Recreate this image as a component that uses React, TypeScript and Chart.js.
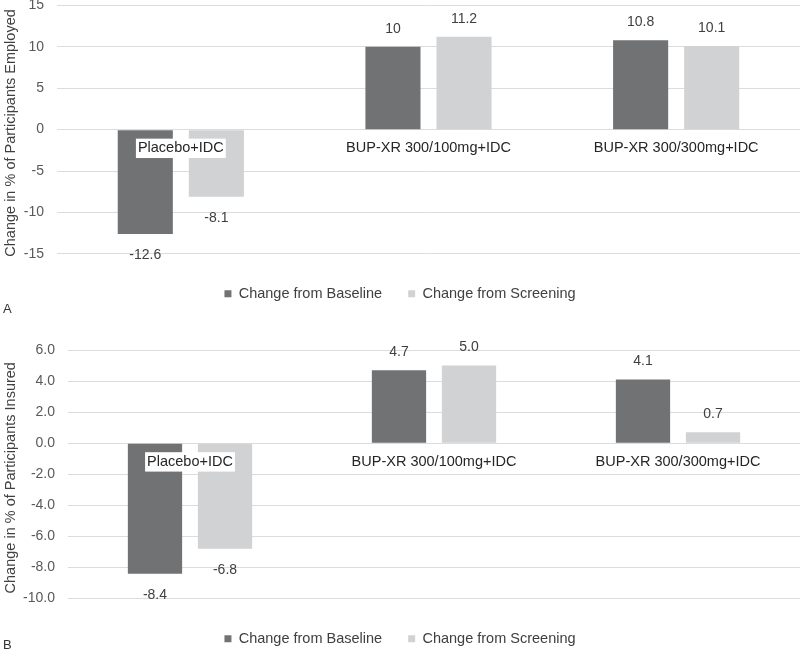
import React, { useEffect, useRef } from "react";
import { Chart, registerables } from "chart.js";

Chart.register(...registerables);

const categories = ["Placebo+IDC", "BUP-XR 300/100mg+IDC", "BUP-XR 300/300mg+IDC"];
const seriesNames = ["Change from Baseline", "Change from Screening"];

const employedBaseline = [-12.6, 10, 10.8];
const employedScreening = [-8.1, 11.2, 10.1];
const employedTicks = [-15, -10, -5, 0, 5, 10, 15];

const insuredBaseline = [-8.4, 4.7, 4.1];
const insuredScreening = [-6.8, 5.0, 0.7];
const insuredTicks = [-10, -8, -6, -4, -2, 0, 2, 4, 6];

const FONT = "'Liberation Sans', Arial, sans-serif";
const DARK = "#717274";
const LIGHT = "#d1d2d4";

type Fmt = (v: number) => string;

function makeValueLabels(fmt: Fmt) {
  return {
    id: "valueLabels",
    afterDatasetsDraw(chart: any) {
      const ctx = chart.ctx;
      ctx.save();
      ctx.font = `14px ${FONT}`;
      ctx.fillStyle = "#404040";
      ctx.textAlign = "center";
      ctx.textBaseline = "middle";
      chart.data.datasets.forEach((ds: any, i: number) => {
        const meta = chart.getDatasetMeta(i);
        meta.data.forEach((el: any, j: number) => {
          const v = ds.data[j] as number;
          const y = v >= 0 ? el.y - 18 : el.y + 21;
          ctx.fillText(fmt(v), el.x, y);
        });
      });
      ctx.restore();
    },
  };
}

interface PanelProps {
  top: number;
  height: number;
  padTop: number;
  baseline: number[];
  screening: number[];
  ticks: number[];
  yMin: number;
  yMax: number;
  yTitle: string;
  axisWidth: number;
  fmt: Fmt;
}

function BarPanel(p: PanelProps) {
  const ref = useRef<HTMLCanvasElement>(null);
  useEffect(() => {
    const chart = new Chart(ref.current as HTMLCanvasElement, {
      type: "bar",
      data: {
        labels: categories,
        datasets: [
          {
            label: seriesNames[0],
            data: p.baseline,
            backgroundColor: DARK,
            categoryPercentage: 0.574,
            barPercentage: 0.775,
          },
          {
            label: seriesNames[1],
            data: p.screening,
            backgroundColor: LIGHT,
            categoryPercentage: 0.574,
            barPercentage: 0.775,
          },
        ],
      },
      options: {
        responsive: false,
        animation: false,
        devicePixelRatio: 1,
        layout: { padding: { top: p.padTop, left: 0, right: 0, bottom: 0 } },
        plugins: {
          legend: {
            position: "bottom",
            labels: {
              boxWidth: 7,
              boxHeight: 7,
              padding: 26,
              color: "#404040",
              font: { family: FONT, size: 14.5 },
            },
          },
          tooltip: { enabled: false },
        },
        scales: {
          x: {
            type: "category",
            position: { y: 0 } as any,
            offset: true,
            grid: { display: false, drawTicks: false },
            border: { display: false },
            ticks: {
              z: 1,
              padding: 10,
              color: "#262626",
              font: { family: FONT, size: 14.5 },
              showLabelBackdrop: true,
              backdropColor: "#ffffff",
              backdropPadding: { x: 2, y: 1 },
              maxRotation: 0,
              autoSkip: false,
            },
          },
          y: {
            min: p.yMin,
            max: p.yMax,
            border: { display: false },
            grid: { color: "#dcdcdc", lineWidth: 1, drawTicks: false },
            afterBuildTicks: (scale: any) => {
              scale.ticks = p.ticks.map((v) => ({ value: v }));
            },
            afterFit: (scale: any) => {
              scale.width = p.axisWidth;
            },
            ticks: {
              padding: 13,
              color: "#595959",
              font: { family: FONT, size: 14 },
              callback: (v: any) => p.fmt(Number(v)),
            },
            title: {
              display: true,
              text: p.yTitle,
              color: "#404040",
              font: { family: FONT, size: 14.5 },
              padding: { top: 2, bottom: 0 },
            },
          },
        },
      },
      plugins: [makeValueLabels(p.fmt)],
    } as any);
    return () => chart.destroy();
  }, []);
  return (
    <canvas
      ref={ref}
      width={800}
      height={p.height}
      style={{ position: "absolute", left: 0, top: p.top, display: "block" }}
    />
  );
}

const fmtA: Fmt = (v) => String(v);
const fmtB: Fmt = (v) => v.toFixed(1);

export default function App() {
  const letter: React.CSSProperties = {
    position: "absolute",
    left: 3,
    fontFamily: FONT,
    fontSize: 13,
    lineHeight: "14px",
    color: "#333",
  };
  return (
    <div
      style={{
        position: "fixed",
        left: 0,
        top: 0,
        width: 800,
        height: 651,
        overflow: "hidden",
        background: "#fff",
      }}
    >
      <BarPanel
        top={-16}
        height={327}
        padTop={0}
        baseline={employedBaseline}
        screening={employedScreening}
        ticks={employedTicks}
        yMin={-15.8}
        yMax={15}
        yTitle="Change in % of Participants Employed"
        axisWidth={57}
        fmt={fmtA}
      />
      <BarPanel
        top={320}
        height={336}
        padTop={30}
        baseline={insuredBaseline}
        screening={insuredScreening}
        ticks={insuredTicks}
        yMin={-10.45}
        yMax={6}
        yTitle="Change in % of Participants Insured"
        axisWidth={68}
        fmt={fmtB}
      />
      <div style={{ ...letter, top: 302 }}>A</div>
      <div style={{ ...letter, top: 638 }}>B</div>
    </div>
  );
}
